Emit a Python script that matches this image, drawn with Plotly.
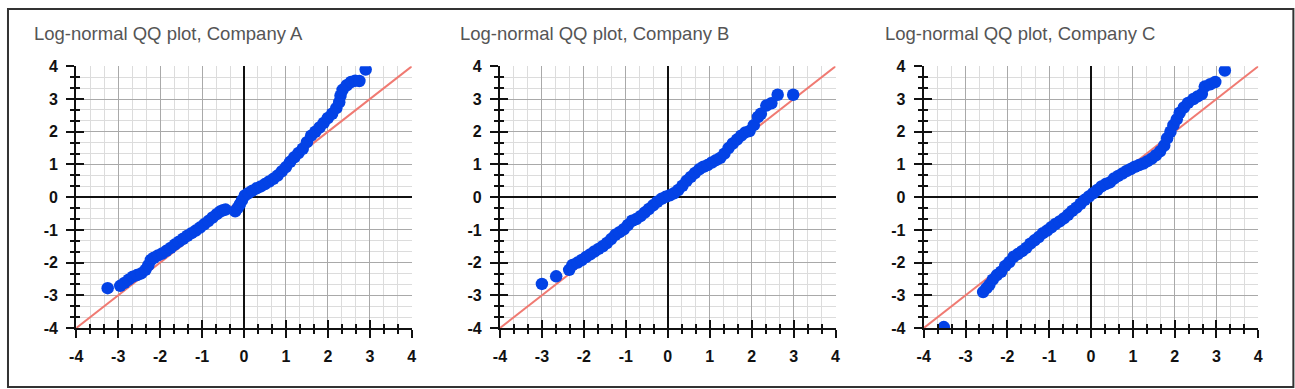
import plotly.graph_objects as go

# ---------------- data ----------------
titles = ["Log-normal QQ plot, Company A",
          "Log-normal QQ plot, Company B",
          "Log-normal QQ plot, Company C"]

tick_vals = [-4, -3, -2, -1, 0, 1, 2, 3, 4]
tick_text = ["-4", "-3", "-2", "-1", "0", "1", "2", "3", "4"]
ref_line = [-4, 4]

a_theoretical = [-3.25, -2.95, -2.85, -2.75, -2.65, -2.55, -2.45, -2.35, -2.28, -2.22,
                 -2.15, -2.05, -1.95, -1.85, -1.75, -1.65, -1.55, -1.45, -1.35, -1.25,
                 -1.15, -1.05, -0.95, -0.85, -0.75, -0.65, -0.57, -0.50, -0.44,
                 -0.21, -0.15, -0.10, -0.05, 0.02, 0.10, 0.20, 0.30, 0.40, 0.50,
                 0.60, 0.70, 0.80, 0.90, 1.00, 1.10, 1.20, 1.30, 1.40, 1.50,
                 1.60, 1.70, 1.80, 1.90, 2.00, 2.10, 2.20, 2.27, 2.30, 2.35,
                 2.45, 2.55, 2.65, 2.75, 2.90]
a_sample = [-2.78, -2.71, -2.62, -2.52, -2.43, -2.38, -2.33, -2.22, -2.08, -1.92,
            -1.85, -1.78, -1.72, -1.64, -1.55, -1.45, -1.36, -1.27, -1.18, -1.10,
            -1.02, -0.93, -0.83, -0.73, -0.62, -0.52, -0.44, -0.40, -0.38,
            -0.43, -0.33, -0.22, -0.10, 0.05, 0.12, 0.20, 0.27, 0.33, 0.40,
            0.48, 0.56, 0.66, 0.79, 0.92, 1.08, 1.22, 1.35, 1.48, 1.68,
            1.88, 2.00, 2.13, 2.27, 2.42, 2.55, 2.72, 2.90, 3.10, 3.28,
            3.42, 3.52, 3.56, 3.55, 3.90]

b_theoretical = [-3.00, -2.66, -2.35, -2.27, -2.15, -2.05, -1.95, -1.85, -1.75, -1.65,
                 -1.55, -1.45, -1.35, -1.25, -1.15, -1.05, -0.95, -0.85, -0.75, -0.65,
                 -0.55, -0.45, -0.35, -0.25, -0.15, -0.05, 0.05, 0.15, 0.25, 0.35,
                 0.45, 0.55, 0.65, 0.75, 0.85, 0.95, 1.05, 1.15, 1.25, 1.35,
                 1.45, 1.55, 1.65, 1.75, 1.85, 1.95, 2.05, 2.15, 2.22, 2.35,
                 2.47, 2.62, 2.99]
b_sample = [-2.65, -2.42, -2.22, -2.07, -2.00, -1.92, -1.83, -1.75, -1.66, -1.58,
            -1.50, -1.40, -1.28, -1.15, -1.07, -0.98, -0.85, -0.72, -0.67, -0.58,
            -0.47, -0.36, -0.25, -0.14, -0.05, 0.01, 0.06, 0.12, 0.22, 0.35,
            0.50, 0.62, 0.74, 0.85, 0.93, 0.98, 1.06, 1.13, 1.20, 1.33,
            1.50, 1.64, 1.76, 1.88, 1.98, 2.02, 2.20, 2.45, 2.55, 2.80,
            2.87, 3.13, 3.13]

c_theoretical = [-3.52, -2.58, -2.50, -2.43, -2.35, -2.25, -2.15, -2.05, -1.95, -1.85,
                 -1.75, -1.65, -1.55, -1.45, -1.35, -1.25, -1.15, -1.05, -0.95, -0.85,
                 -0.75, -0.65, -0.55, -0.45, -0.35, -0.25, -0.15, -0.05, 0.05, 0.15,
                 0.25, 0.35, 0.45, 0.55, 0.65, 0.75, 0.85, 0.95, 1.05, 1.15,
                 1.25, 1.35, 1.45, 1.55, 1.65, 1.75, 1.82, 1.90, 1.97, 2.05,
                 2.12, 2.22, 2.32, 2.45, 2.55, 2.65, 2.72, 2.85, 2.97, 3.20]
c_sample = [-3.97, -2.90, -2.78, -2.68, -2.52, -2.38, -2.28, -2.10, -1.98, -1.82,
            -1.74, -1.65, -1.55, -1.42, -1.32, -1.22, -1.10, -1.02, -0.92, -0.82,
            -0.74, -0.65, -0.54, -0.42, -0.32, -0.20, -0.08, 0.02, 0.12, 0.22,
            0.33, 0.40, 0.45, 0.57, 0.65, 0.72, 0.80, 0.86, 0.93, 0.98,
            1.03, 1.10, 1.18, 1.28, 1.40, 1.58, 1.80, 2.00, 2.20, 2.38,
            2.58, 2.74, 2.88, 3.00, 3.08, 3.15, 3.38, 3.45, 3.52, 3.87]

series = [(a_theoretical, a_sample), (b_theoretical, b_sample), (c_theoretical, c_sample)]

# ---------------- layout ----------------
# Page has an 8px body margin and the capture is scaled slightly; convert
# target picture pixels into figure pixels.
SX, SY, M = 0.989, 0.958, 8


def fx(px):
    return px / SX - M


def fy(px):
    return px / SY - M


W, H = 1299, 397
x_domains = [(77, 412), (500, 835), (923, 1257)]
y_top, y_bot = 66, 328
title_x = [33, 458, 882]
title_y = 33

marker_color = "#0342e6"
line_color = "#f07a72"
font_family = "Liberation Sans, Arial, sans-serif"

fig = go.Figure()

layout_axes = {}
for i, (xs, ys) in enumerate(series):
    n = i + 1
    xa = "x" if n == 1 else f"x{n}"
    ya = "y" if n == 1 else f"y{n}"
    on = n + 3  # overlay axes for ticks crossing the axis line

    fig.add_trace(go.Scatter(x=ref_line, y=ref_line, mode="lines",
                             line=dict(color=line_color, width=2),
                             xaxis=xa, yaxis=ya, hoverinfo="skip", showlegend=False))
    fig.add_trace(go.Scatter(x=xs, y=ys, mode="markers",
                             marker=dict(color=marker_color, size=12.5, line=dict(width=0)),
                             xaxis=xa, yaxis=ya, showlegend=False))
    fig.add_trace(go.Scatter(x=[None], y=[None], mode="markers",
                             xaxis=f"x{on}", yaxis=f"y{on}", showlegend=False,
                             hoverinfo="skip"))

    dx = [fx(x_domains[i][0]) / W, fx(x_domains[i][1]) / W]
    dy = [1 - fy(y_bot) / H, 1 - fy(y_top) / H]

    common = dict(range=[-4, 4], tickvals=tick_vals, ticktext=tick_text, showgrid=True,
                  gridcolor="#a9a9a9", gridwidth=1,
                  zeroline=True, zerolinecolor="#111111", zerolinewidth=1.6,
                  showline=True, linecolor="#111111", linewidth=2,
                  ticks="outside", ticklen=8, tickwidth=1.6, tickcolor="#111111",
                  tickfont=dict(family=font_family, size=16, color="#111111", weight="bold"),
                  minor=dict(dtick=1 / 3, tick0=-4, ticks="outside", ticklen=4,
                             tickwidth=1.6, tickcolor="#111111",
                             showgrid=True, gridcolor="#dcdcdc", gridwidth=1),
                  fixedrange=True)
    layout_axes[f"xaxis{'' if n == 1 else n}"] = dict(common, domain=dx, anchor=ya,
                                                      ticklabelstandoff=5)
    layout_axes[f"yaxis{'' if n == 1 else n}"] = dict(common, domain=dy, anchor=xa,
                                                      ticklabelstandoff=5)

    over = dict(range=[-4, 4], tickvals=tick_vals, showgrid=False, zeroline=False,
                showline=False, showticklabels=False,
                ticks="inside", ticklen=8, tickwidth=1.6, tickcolor="#111111",
                minor=dict(dtick=1 / 3, tick0=-4, ticks="inside", ticklen=4,
                           tickwidth=1.6, tickcolor="#111111", showgrid=False),
                fixedrange=True)
    layout_axes[f"xaxis{on}"] = dict(over, domain=dx, anchor=f"y{on}", overlaying=xa)
    layout_axes[f"yaxis{on}"] = dict(over, domain=dy, anchor=f"x{on}", overlaying=ya)

annotations = []
for i, t in enumerate(titles):
    annotations.append(dict(text=t, xref="paper", yref="paper",
                            x=fx(title_x[i]) / W, y=1 - fy(title_y) / H,
                            xanchor="left", yanchor="middle", showarrow=False,
                            font=dict(family=font_family, size=18.5, color="#555555")))

fig.update_layout(
    width=W, height=H,
    margin=dict(l=0, r=0, t=0, b=0),
    paper_bgcolor="white", plot_bgcolor="white",
    showlegend=False,
    annotations=annotations,
    shapes=[dict(type="rect", xref="paper", yref="paper",
                 x0=1 / W, x1=fx(1292) / W, y0=1 - fy(387) / H, y1=(H - 1) / H,
                 line=dict(color="#333333", width=2), fillcolor="rgba(0,0,0,0)",
                 layer="above")],
    **layout_axes,
)

fig.write_html("out.html", config=dict(displayModeBar=False))
